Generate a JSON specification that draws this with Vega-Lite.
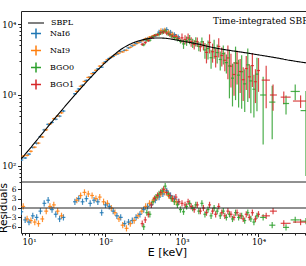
{
"$schema": "https://vega.github.io/schema/vega-lite/v6.json",
"autosize": {"type": "none"},
"width": 285,
"height": 222,
"padding": {"left": 21, "top": 11, "right": 0, "bottom": 33},
"background": "white",
"config": {
  "view": {"stroke": null},
  "font": "DejaVu Serif",
  "legend": {"labelColor": "black", "labelFont": "DejaVu Serif"},
  "axis": {"domainColor": "#222", "tickColor": "#222", "domainWidth": 1, "tickWidth": 1, "labelColor": "black", "grid": false, "labelFont": "DejaVu Serif", "titleFont": "DejaVu Sans", "titleFontWeight": "normal", "titleColor": "black"}
},
"datasets": {
"model": [{"E":7.86,"F":124.1},{"E":10,"F":169.8},{"E":15.8,"F":309},{"E":25.1,"F":562.3},{"E":39.8,"F":1000},{"E":63.1,"F":1738},{"E":100,"F":2884},{"E":126,"F":3589},{"E":158,"F":4365},{"E":200,"F":5070},{"E":251,"F":5623},{"E":316,"F":6026},{"E":398,"F":6310},{"E":501,"F":6353},{"E":631,"F":6266},{"E":794,"F":6026},{"E":1000,"F":5754},{"E":1585,"F":5248},{"E":2512,"F":4677},{"E":3981,"F":4285},{"E":6310,"F":3981},{"E":10000,"F":3673},{"E":15850,"F":3388},{"E":25120,"F":3090},{"E":41780,"F":2838}],
"obs": [
{"d":"NaI6","E":7.94,"E1":7.5,"E2":8.41,"F":121.4,"dF":4.2,"R":-1.2,"dR":1},
{"d":"NaI6","E":8.91,"E1":8.41,"E2":9.44,"F":129.5,"dF":4.5,"R":-3.8,"dR":1},
{"d":"NaI6","E":10.0,"E1":9.44,"E2":10.6,"F":146.9,"dF":5.1,"R":-4.5,"dR":1},
{"d":"NaI6","E":11.2,"E1":10.6,"E2":11.9,"F":182.4,"dF":6.4,"R":-2.5,"dR":1},
{"d":"NaI6","E":12.6,"E1":11.9,"E2":13.3,"F":208.5,"dF":7.3,"R":-3.0,"dR":1},
{"d":"NaI6","E":14.1,"E1":13.3,"E2":15.0,"F":258.1,"dF":9.0,"R":-1.0,"dR":1},
{"d":"NaI6","E":15.8,"E1":15.0,"E2":16.8,"F":322.9,"dF":11.3,"R":1.5,"dR":1},
{"d":"NaI6","E":17.8,"E1":16.8,"E2":18.8,"F":385.8,"dF":13.5,"R":2.5,"dR":1},
{"d":"NaI6","E":20.0,"E1":18.8,"E2":21.1,"F":410.6,"dF":14.4,"R":-0.5,"dR":1},
{"d":"NaI6","E":22.4,"E1":21.1,"E2":23.7,"F":455.1,"dF":15.9,"R":-2.0,"dR":1},
{"d":"NaI6","E":25.1,"E1":23.7,"E2":26.6,"F":503.3,"dF":17.6,"R":-3.5,"dR":1},
{"d":"NaI6","E":28.2,"E1":26.6,"E2":29.9,"F":594.3,"dF":20.8,"R":-3.0,"dR":1},
{"d":"NaI6","E":39.8,"E1":37.6,"E2":42.2,"F":1040,"dF":31,"R":2.0,"dR":1},
{"d":"NaI6","E":44.7,"E1":42.2,"E2":47.3,"F":1217,"dF":37,"R":3.0,"dR":1},
{"d":"NaI6","E":50.1,"E1":47.3,"E2":53.1,"F":1371,"dF":41,"R":2.0,"dR":1},
{"d":"NaI6","E":56.2,"E1":53.1,"E2":59.6,"F":1605,"dF":48,"R":3.0,"dR":1},
{"d":"NaI6","E":63.1,"E1":59.6,"E2":66.8,"F":1790,"dF":54,"R":1.5,"dR":1},
{"d":"NaI6","E":70.8,"E1":66.8,"E2":75.0,"F":2071,"dF":62,"R":2.5,"dR":1},
{"d":"NaI6","E":79.4,"E1":75.0,"E2":84.1,"F":2329,"dF":70,"R":2.0,"dR":1},
{"d":"NaI6","E":89.1,"E1":84.1,"E2":94.4,"F":2465,"dF":74,"R":-1.5,"dR":1},
{"d":"NaI6","E":100,"E1":94.4,"E2":106,"F":2942,"dF":88,"R":1.0,"dR":1},
{"d":"NaI6","E":112,"E1":106,"E2":119,"F":3268,"dF":98,"R":0.5,"dR":1},
{"d":"NaI6","E":126,"E1":119,"E2":133,"F":3517,"dF":106,"R":-1.0,"dR":1},
{"d":"NaI6","E":141,"E1":133,"E2":150,"F":3782,"dF":113,"R":-2.5,"dR":1},
{"d":"NaI6","E":158,"E1":150,"E2":168,"F":4103,"dF":123,"R":-3.0,"dR":1},
{"d":"NaI6","E":178,"E1":168,"E2":188,"F":4259,"dF":128,"R":-5.0,"dR":1},
{"d":"NaI6","E":200,"E1":188,"E2":211,"F":4614,"dF":138,"R":-4.5,"dR":1},
{"d":"NaI6","E":224,"E1":211,"E2":237,"F":4940,"dF":148,"R":-4.0,"dR":1},
{"d":"NaI6","E":251,"E1":237,"E2":266,"F":5286,"dF":159,"R":-3.0,"dR":1},
{"d":"NaI6","E":282,"E1":266,"E2":299,"F":5588,"dF":168,"R":-2.0,"dR":1},
{"d":"NaI6","E":316,"E1":299,"E2":335,"F":5936,"dF":237,"R":-0.5,"dR":1},
{"d":"NaI6","E":355,"E1":335,"E2":376,"F":6258,"dF":250,"R":0.5,"dR":1},
{"d":"NaI6","E":398,"E1":376,"E2":422,"F":6499,"dF":260,"R":1.0,"dR":1},
{"d":"NaI6","E":447,"E1":422,"E2":473,"F":6829,"dF":273,"R":2.5,"dR":1},
{"d":"NaI6","E":501,"E1":473,"E2":531,"F":7687,"dF":615,"R":3.5,"dR":1},
{"d":"NaI6","E":562,"E1":531,"E2":596,"F":8014,"dF":641,"R":4.5,"dR":1},
{"d":"NaI6","E":631,"E1":596,"E2":668,"F":8334,"dF":667,"R":5.5,"dR":1},
{"d":"NaI6","E":708,"E1":668,"E2":750,"F":7646,"dF":612,"R":4.0,"dR":1},
{"d":"NaI6","E":794,"E1":750,"E2":841,"F":7111,"dF":569,"R":3.0,"dR":1},
{"d":"NaI6","E":891,"E1":841,"E2":944,"F":6595,"dF":528,"R":2.0,"dR":1},
{"d":"NaI9","E":8.41,"E1":7.94,"E2":8.91,"F":137.7,"dF":4.8,"R":0.5,"dR":1},
{"d":"NaI9","E":9.44,"E1":8.91,"E2":10.0,"F":141.1,"dF":4.9,"R":-3.5,"dR":1},
{"d":"NaI9","E":10.6,"E1":10.0,"E2":11.2,"F":161.0,"dF":5.6,"R":-4.0,"dR":1},
{"d":"NaI9","E":11.9,"E1":11.2,"E2":12.6,"F":183.9,"dF":6.4,"R":-4.5,"dR":1},
{"d":"NaI9","E":13.3,"E1":12.6,"E2":14.1,"F":209.9,"dF":7.3,"R":-5.0,"dR":1},
{"d":"NaI9","E":15.0,"E1":14.1,"E2":15.8,"F":256.7,"dF":9.0,"R":-3.5,"dR":1},
{"d":"NaI9","E":16.8,"E1":15.8,"E2":17.8,"F":323.0,"dF":11.3,"R":-1.0,"dR":1},
{"d":"NaI9","E":18.8,"E1":17.8,"E2":20.0,"F":392.5,"dF":13.7,"R":0.5,"dR":1},
{"d":"NaI9","E":21.1,"E1":20.0,"E2":22.4,"F":462.8,"dF":16.2,"R":1.0,"dR":1},
{"d":"NaI9","E":23.7,"E1":22.4,"E2":25.1,"F":506.2,"dF":17.7,"R":-1.0,"dR":1},
{"d":"NaI9","E":26.6,"E1":25.1,"E2":28.2,"F":560.6,"dF":19.6,"R":-2.5,"dR":1},
{"d":"NaI9","E":42.2,"E1":39.8,"E2":44.7,"F":1126,"dF":34,"R":2.5,"dR":1},
{"d":"NaI9","E":47.3,"E1":44.7,"E2":50.1,"F":1328,"dF":40,"R":4.0,"dR":1},
{"d":"NaI9","E":53.1,"E1":50.1,"E2":56.2,"F":1554,"dF":47,"R":5.0,"dR":1},
{"d":"NaI9","E":59.6,"E1":56.2,"E2":63.1,"F":1768,"dF":53,"R":4.5,"dR":1},
{"d":"NaI9","E":66.8,"E1":63.1,"E2":70.8,"F":1999,"dF":60,"R":4.0,"dR":1},
{"d":"NaI9","E":75.0,"E1":70.8,"E2":79.4,"F":2227,"dF":67,"R":3.0,"dR":1},
{"d":"NaI9","E":84.1,"E1":79.4,"E2":89.1,"F":2552,"dF":77,"R":3.5,"dR":1},
{"d":"NaI9","E":94.4,"E1":89.1,"E2":100,"F":2815,"dF":84,"R":2.0,"dR":1},
{"d":"NaI9","E":106,"E1":100,"E2":112,"F":3147,"dF":94,"R":1.5,"dR":1},
{"d":"NaI9","E":119,"E1":112,"E2":126,"F":3408,"dF":102,"R":0.0,"dR":1},
{"d":"NaI9","E":133,"E1":126,"E2":141,"F":3667,"dF":110,"R":-1.5,"dR":1},
{"d":"NaI9","E":150,"E1":141,"E2":158,"F":3877,"dF":116,"R":-3.5,"dR":1},
{"d":"NaI9","E":168,"E1":158,"E2":178,"F":4045,"dF":121,"R":-5.5,"dR":1},
{"d":"NaI9","E":188,"E1":178,"E2":200,"F":4261,"dF":128,"R":-6.5,"dR":1},
{"d":"NaI9","E":211,"E1":200,"E2":224,"F":4696,"dF":141,"R":-5.0,"dR":1},
{"d":"NaI9","E":237,"E1":224,"E2":251,"F":5055,"dF":152,"R":-4.0,"dR":1},
{"d":"NaI9","E":266,"E1":251,"E2":282,"F":5435,"dF":163,"R":-2.5,"dR":1},
{"d":"NaI9","E":299,"E1":282,"E2":316,"F":5805,"dF":174,"R":-1.0,"dR":1},
{"d":"NaI9","E":335,"E1":316,"E2":355,"F":6186,"dF":247,"R":0.5,"dR":1},
{"d":"NaI9","E":376,"E1":355,"E2":398,"F":6518,"dF":261,"R":1.5,"dR":1},
{"d":"NaI9","E":422,"E1":398,"E2":447,"F":6807,"dF":272,"R":2.5,"dR":1},
{"d":"NaI9","E":473,"E1":447,"E2":501,"F":7020,"dF":281,"R":3.5,"dR":1},
{"d":"NaI9","E":531,"E1":501,"E2":562,"F":8042,"dF":643,"R":4.5,"dR":1},
{"d":"NaI9","E":596,"E1":562,"E2":631,"F":8174,"dF":654,"R":5.0,"dR":1},
{"d":"NaI9","E":668,"E1":631,"E2":708,"F":7708,"dF":617,"R":4.0,"dR":1},
{"d":"NaI9","E":750,"E1":708,"E2":794,"F":7192,"dF":575,"R":3.0,"dR":1},
{"d":"NaI9","E":841,"E1":794,"E2":891,"F":6672,"dF":534,"R":2.0,"dR":1},
{"d":"BGO0","E":316,"E1":302,"E2":331,"F":5105,"dF":255,"R":-6.0,"dR":1},
{"d":"BGO0","E":347,"E1":331,"E2":363,"F":5888,"dF":294,"R":-1.5,"dR":1},
{"d":"BGO0","E":380,"E1":363,"E2":398,"F":5916,"dF":296,"R":-2.0,"dR":1},
{"d":"BGO0","E":417,"E1":398,"E2":437,"F":6683,"dF":334,"R":2.0,"dR":1},
{"d":"BGO0","E":457,"E1":437,"E2":479,"F":6998,"dF":350,"R":3.5,"dR":1},
{"d":"BGO0","E":501,"E1":479,"E2":525,"F":7194,"dF":504,"R":4.5,"dR":1},
{"d":"BGO0","E":550,"E1":525,"E2":575,"F":7648,"dF":535,"R":5.5,"dR":1},
{"d":"BGO0","E":603,"E1":575,"E2":631,"F":7998,"dF":560,"R":7.0,"dR":1},
{"d":"BGO0","E":661,"E1":631,"E2":692,"F":7271,"dF":509,"R":4.5,"dR":1},
{"d":"BGO0","E":724,"E1":692,"E2":759,"F":6808,"dF":477,"R":3.0,"dR":1},
{"d":"BGO0","E":794,"E1":759,"E2":832,"F":6457,"dF":452,"R":2.0,"dR":1},
{"d":"BGO0","E":871,"E1":832,"E2":912,"F":6124,"dF":429,"R":1.0,"dR":1},
{"d":"BGO0","E":955,"E1":912,"E2":1000,"F":5709,"dF":400,"R":-0.5,"dR":1},
{"d":"BGO0","E":1047,"E1":1000,"E2":1096,"F":5248,"dF":787,"R":-1.2,"dR":1},
{"d":"BGO0","E":1148,"E1":1096,"E2":1202,"F":5794,"dF":869,"R":0.5,"dR":1},
{"d":"BGO0","E":1259,"E1":1202,"E2":1318,"F":6095,"dF":914,"R":1.5,"dR":1},
{"d":"BGO0","E":1380,"E1":1318,"E2":1445,"F":5395,"dF":809,"R":0.0,"dR":1},
{"d":"BGO0","E":1514,"E1":1445,"E2":1585,"F":5675,"dF":851,"R":1.0,"dR":1},
{"d":"BGO0","E":1660,"E1":1585,"E2":1738,"F":4842,"dF":726,"R":-1.0,"dR":1},
{"d":"BGO0","E":1820,"E1":1738,"E2":1905,"F":5623,"dF":843,"R":1.5,"dR":1},
{"d":"BGO0","E":1995,"E1":1905,"E2":2089,"F":4315,"dF":1079,"R":-2.0,"dR":1},
{"d":"BGO0","E":2188,"E1":2089,"E2":2291,"F":4519,"dF":1356,"R":-0.5,"dR":1},
{"d":"BGO0","E":2399,"E1":2291,"E2":2512,"F":3350,"dF":1005,"R":-2.5,"dR":1},
{"d":"BGO0","E":2630,"E1":2512,"E2":2754,"F":4634,"dF":1390,"R":0.0,"dR":1},
{"d":"BGO0","E":2884,"E1":2754,"E2":3020,"F":3963,"dF":1189,"R":-1.0,"dR":1},
{"d":"BGO0","E":3162,"E1":3020,"E2":3311,"F":3162,"dF":949,"R":-2.5,"dR":1},
{"d":"BGO0","E":3467,"E1":3311,"E2":3631,"F":3828,"dF":1148,"R":-1.0,"dR":1},
{"d":"BGO0","E":3802,"E1":3631,"E2":3981,"F":2858,"dF":857,"R":-3.0,"dR":1},
{"d":"BGO0","E":4169,"E1":3981,"E2":4365,"F":2564,"dF":1667,"R":-2.0,"dR":1},
{"d":"BGO0","E":4571,"E1":4365,"E2":4786,"F":1726,"dF":1036,"R":-3.5,"dR":1},
{"d":"BGO0","E":5012,"E1":4786,"E2":5248,"F":2825,"dF":1978,"R":-1.5,"dR":1},
{"d":"BGO0","E":5495,"E1":5248,"E2":5754,"F":1905,"dF":1238,"R":-3.0,"dR":1},
{"d":"BGO0","E":6026,"E1":5754,"E2":6310,"F":2128,"dF":1490,"R":-2.5,"dR":1},
{"d":"BGO0","E":6607,"E1":6310,"E2":6918,"F":1436,"dF":862,"R":-4.0,"dR":1},
{"d":"BGO0","E":7244,"E1":6918,"E2":7586,"F":2661,"dF":1863,"R":-1.5,"dR":1},
{"d":"BGO0","E":7943,"E1":7586,"E2":8318,"F":1578,"dF":1026,"R":-3.5,"dR":1},
{"d":"BGO0","E":8710,"E1":8318,"E2":9120,"F":1205,"dF":723,"R":-4.5,"dR":1},
{"d":"BGO0","E":9550,"E1":9120,"E2":10000,"F":1968,"dF":1378,"R":-2.5,"dR":1},
{"d":"BGO0","E":11500,"E1":10500,"E2":12600,"F":1000,"dF":800,"R":-3.0,"dR":1},
{"d":"BGO0","E":15100,"E1":13800,"E2":16600,"F":794,"dF":556,"R":-5.5,"dR":1},
{"d":"BGO0","E":22900,"E1":20900,"E2":25100,"F":759,"dF":228,"R":-6.2,"dR":1},
{"d":"BGO0","E":30200,"E1":26300,"E2":34700,"F":1122,"dF":280,"R":-3.8,"dR":1},
{"d":"BGO0","E":41700,"E1":35500,"E2":52500,"F":603,"dF":531,"R":-4.2,"dR":1},
{"d":"BGO1","E":302,"E1":288,"E2":316,"F":5176,"dF":259,"R":-5.0,"dR":1},
{"d":"BGO1","E":331,"E1":316,"E2":347,"F":5470,"dF":274,"R":-3.8,"dR":1},
{"d":"BGO1","E":363,"E1":347,"E2":380,"F":5861,"dF":293,"R":-2.0,"dR":1},
{"d":"BGO1","E":398,"E1":380,"E2":417,"F":6486,"dF":324,"R":1.0,"dR":1},
{"d":"BGO1","E":437,"E1":417,"E2":457,"F":6887,"dF":344,"R":3.0,"dR":1},
{"d":"BGO1","E":479,"E1":457,"E2":501,"F":7096,"dF":355,"R":4.0,"dR":1},
{"d":"BGO1","E":525,"E1":501,"E2":550,"F":7534,"dF":527,"R":5.0,"dR":1},
{"d":"BGO1","E":575,"E1":550,"E2":603,"F":7762,"dF":543,"R":6.0,"dR":1},
{"d":"BGO1","E":631,"E1":603,"E2":661,"F":7447,"dF":521,"R":5.0,"dR":1},
{"d":"BGO1","E":692,"E1":661,"E2":724,"F":7096,"dF":497,"R":4.0,"dR":1},
{"d":"BGO1","E":759,"E1":724,"E2":794,"F":6745,"dF":472,"R":3.0,"dR":1},
{"d":"BGO1","E":832,"E1":794,"E2":871,"F":6736,"dF":472,"R":3.5,"dR":1},
{"d":"BGO1","E":912,"E1":871,"E2":955,"F":6281,"dF":440,"R":2.0,"dR":1},
{"d":"BGO1","E":1000,"E1":955,"E2":1047,"F":6383,"dF":957,"R":1.5,"dR":1},
{"d":"BGO1","E":1096,"E1":1047,"E2":1148,"F":6053,"dF":908,"R":1.0,"dR":1},
{"d":"BGO1","E":1202,"E1":1148,"E2":1259,"F":6368,"dF":955,"R":2.0,"dR":1},
{"d":"BGO1","E":1318,"E1":1259,"E2":1380,"F":5636,"dF":845,"R":0.5,"dR":1},
{"d":"BGO1","E":1445,"E1":1380,"E2":1514,"F":5164,"dF":775,"R":-0.5,"dR":1},
{"d":"BGO1","E":1585,"E1":1514,"E2":1660,"F":5623,"dF":843,"R":1.0,"dR":1},
{"d":"BGO1","E":1738,"E1":1660,"E2":1820,"F":4786,"dF":718,"R":-1.0,"dR":1},
{"d":"BGO1","E":1905,"E1":1820,"E2":1995,"F":5012,"dF":752,"R":0.0,"dR":1},
{"d":"BGO1","E":2089,"E1":1995,"E2":2188,"F":3981,"dF":1194,"R":-1.5,"dR":1},
{"d":"BGO1","E":2291,"E1":2188,"E2":2399,"F":5495,"dF":1649,"R":1.0,"dR":1},
{"d":"BGO1","E":2512,"E1":2399,"E2":2630,"F":4074,"dF":1222,"R":-1.0,"dR":1},
{"d":"BGO1","E":2754,"E1":2630,"E2":2884,"F":3483,"dF":1045,"R":-2.0,"dR":1},
{"d":"BGO1","E":3020,"E1":2884,"E2":3162,"F":4831,"dF":1449,"R":0.5,"dR":1},
{"d":"BGO1","E":3311,"E1":3162,"E2":3467,"F":3597,"dF":1079,"R":-1.5,"dR":1},
{"d":"BGO1","E":3631,"E1":3467,"E2":3802,"F":3083,"dF":925,"R":-2.5,"dR":1},
{"d":"BGO1","E":3981,"E1":3802,"E2":4169,"F":3327,"dF":1664,"R":-1.0,"dR":1},
{"d":"BGO1","E":4365,"E1":4169,"E2":4571,"F":2547,"dF":1274,"R":-2.0,"dR":1},
{"d":"BGO1","E":4786,"E1":4571,"E2":5012,"F":1945,"dF":973,"R":-3.0,"dR":1},
{"d":"BGO1","E":5248,"E1":5012,"E2":5495,"F":2805,"dF":1403,"R":-1.5,"dR":1},
{"d":"BGO1","E":5754,"E1":5495,"E2":6026,"F":2143,"dF":1072,"R":-2.5,"dR":1},
{"d":"BGO1","E":6310,"E1":6026,"E2":6607,"F":1641,"dF":821,"R":-3.5,"dR":1},
{"d":"BGO1","E":6918,"E1":6607,"E2":7244,"F":2360,"dF":1180,"R":-2.0,"dR":1},
{"d":"BGO1","E":7586,"E1":7244,"E2":7943,"F":1803,"dF":902,"R":-3.0,"dR":1},
{"d":"BGO1","E":8318,"E1":7943,"E2":8710,"F":2594,"dF":1297,"R":-1.5,"dR":1},
{"d":"BGO1","E":9120,"E1":8710,"E2":9550,"F":1538,"dF":769,"R":-3.5,"dR":1},
{"d":"BGO1","E":10000,"E1":9550,"E2":10471,"F":2213,"dF":1107,"R":-2.0,"dR":1},
{"d":"BGO1","E":12600,"E1":11000,"E2":14100,"F":1620,"dF":970,"R":-2.5,"dR":1},
{"d":"BGO1","E":15500,"E1":14100,"E2":17400,"F":1000,"dF":400,"R":-1.0,"dR":1},
{"d":"BGO1","E":21400,"E1":19500,"E2":26300,"F":933,"dF":190,"R":-4.9,"dR":1},
{"d":"BGO1","E":35500,"E1":28200,"E2":50100,"F":822,"dF":165,"R":-4.5,"dR":1}
]
},
"layer": [
{
  "data": {"name": "obs"},
  "mark": {"type": "errorbar", "clip": true, "rule": {"strokeWidth": 1.2, "opacity": 0.85}},
  "encoding": {
    "x": {"field": "E", "type": "quantitative", "scale": {"type": "log", "domain": [7.86, 41780], "nice": false}, "axis": {"orient": "top", "labels": false, "ticks": false, "title": null}},
    "y": {"field": "F", "type": "quantitative", "scale": {"type": "log", "domain": [59.5, 15245], "range": [171, 0], "nice": false}, "axis": {"orient": "left", "values": [100, 1000, 10000], "labelExpr": "datum.value == 100 ? '10²' : datum.value == 1000 ? '10³' : '10⁴'", "title": null, "tickSize": 3.5, "labelPadding": 1.5, "labelFontSize": 8.5}},
    "yError": {"field": "dF"},
    "color": {"field": "d", "type": "nominal",
      "scale": {"domain": ["NaI6", "NaI9", "BGO0", "BGO1"], "range": ["#1f77b4", "#ff7f0e", "#2ca02c", "#d62728"]},
      "legend": {"orient": "none", "legendX": 9, "legendY": 16.5, "title": null, "padding": 0, "labelFont": "DejaVu Serif", "labelFontSize": 8, "labelColor": "black", "labelOffset": 8, "symbolType": "M-1,0H1M0,-1V1", "symbolSize": 100, "symbolStrokeWidth": 1.5, "symbolFillColor": "transparent", "symbolOpacity": 1, "rowPadding": 1}}
  }
},
{
  "data": {"name": "obs"},
  "mark": {"type": "rule", "strokeWidth": 1.2, "opacity": 0.85, "clip": true},
  "encoding": {
    "x": {"field": "E1", "type": "quantitative", "scale": {"type": "log", "domain": [7.86, 41780], "nice": false}, "axis": null},
    "x2": {"field": "E2"},
    "y": {"field": "F", "type": "quantitative", "scale": {"type": "log", "domain": [59.5, 15245], "range": [171, 0], "nice": false}, "axis": {"orient": "left", "values": [60, 70, 80, 90, 200, 300, 400, 500, 600, 700, 800, 900, 2000, 3000, 4000, 5000, 6000, 7000, 8000, 9000], "labels": false, "domain": false, "tickSize": 2, "title": null}},
    "color": {"field": "d", "type": "nominal", "legend": null}
  }
},
{
  "data": {"name": "model"},
  "mark": {"type": "line", "strokeWidth": 1.1, "color": "black", "interpolate": "monotone", "clip": true},
  "encoding": {
    "x": {"field": "E", "type": "quantitative", "scale": {"type": "log", "domain": [7.86, 41780], "nice": false}, "axis": null},
    "y": {"field": "F", "type": "quantitative", "scale": {"type": "log", "domain": [59.5, 15245], "range": [171, 0], "nice": false}, "axis": null},
    "strokeDash": {"datum": "SBPL", "type": "nominal", "scale": {"domain": ["SBPL"], "range": [[1, 0]]},
      "legend": {"orient": "none", "legendX": 6, "legendY": 3, "title": null, "padding": 0, "labelFont": "DejaVu Serif", "labelFontSize": 8, "labelColor": "black", "labelOffset": 6, "symbolType": "stroke", "symbolSize": 256, "symbolStrokeColor": "black", "symbolStrokeWidth": 1.2}}
  }
},
{
  "data": {"values": [{}]},
  "mark": {"type": "text", "align": "left", "baseline": "middle", "font": "DejaVu Serif", "fontSize": 9, "color": "black"},
  "encoding": {
    "x": {"datum": 2540, "type": "quantitative", "scale": {"type": "log", "domain": [7.86, 41780], "nice": false}, "axis": null},
    "y": {"datum": 11000, "type": "quantitative", "scale": {"type": "log", "domain": [59.5, 15245], "range": [171, 0], "nice": false}, "axis": null},
    "text": {"value": "Time-integrated SBPL"}
  }
},
{
  "data": {"name": "obs"},
  "mark": {"type": "errorbar", "clip": true, "rule": {"strokeWidth": 1.2, "opacity": 0.85}},
  "encoding": {
    "x": {"field": "E", "type": "quantitative", "scale": {"type": "log", "domain": [7.86, 41780], "nice": false}, "axis": {"orient": "bottom", "values": [10, 100, 1000, 10000], "labelExpr": "datum.value == 10 ? '10¹' : datum.value == 100 ? '10²' : datum.value == 1000 ? '10³' : '10⁴'", "labelFontSize": 8.5, "tickSize": 3.5, "labelPadding": 1, "title": "E [keV]", "titleFontSize": 11, "titleX": 146, "titleY": 19, "titleBaseline": "middle"}},
    "y": {"field": "R", "type": "quantitative", "scale": {"domain": [-8, 8.33], "range": [222, 171], "nice": false, "zero": false}, "axis": {"orient": "left", "values": [-6, -3, 0, 3, 6], "labelExpr": "datum.value < 0 ? '−' + abs(datum.value) : '' + datum.value", "labelFontSize": 7.5, "tickSize": 3.5, "labelPadding": 1.5, "title": "Residuals", "titleFontSize": 10.5, "titleX": -15, "titleY": 196.5, "titleAngle": 270, "titleBaseline": "alphabetic", "titleAlign": "center"}},
    "yError": {"field": "dR"},
    "color": {"field": "d", "type": "nominal", "legend": null}
  }
},
{
  "data": {"name": "obs"},
  "mark": {"type": "rule", "strokeWidth": 1.2, "opacity": 0.85, "clip": true},
  "encoding": {
    "x": {"field": "E1", "type": "quantitative", "scale": {"type": "log", "domain": [7.86, 41780], "nice": false}, "axis": {"orient": "bottom", "values": [8, 9, 20, 30, 40, 50, 60, 70, 80, 90, 200, 300, 400, 500, 600, 700, 800, 900, 2000, 3000, 4000, 5000, 6000, 7000, 8000, 9000, 20000, 30000, 40000], "labels": false, "domain": false, "tickSize": 2, "title": null}},
    "x2": {"field": "E2"},
    "y": {"field": "R", "type": "quantitative", "scale": {"domain": [-8, 8.33], "range": [222, 171], "nice": false, "zero": false}, "axis": null},
    "color": {"field": "d", "type": "nominal", "legend": null}
  }
},
{
  "data": {"values": [{}]},
  "mark": {"type": "rule", "color": "#222", "strokeWidth": 1},
  "encoding": {
    "y": {"datum": 0, "type": "quantitative", "scale": {"domain": [-8, 8.33], "range": [222, 171], "nice": false, "zero": false}, "axis": null}
  }
},
{
  "data": {"values": [{}]},
  "mark": {"type": "rule", "color": "#222", "strokeWidth": 1},
  "encoding": {
    "y": {"datum": 8.33, "type": "quantitative", "scale": {"domain": [-8, 8.33], "range": [222, 171], "nice": false, "zero": false}, "axis": null}
  }
}
],
"resolve": {"scale": {"y": "independent"}, "axis": {"x": "independent", "y": "independent"}}
}
